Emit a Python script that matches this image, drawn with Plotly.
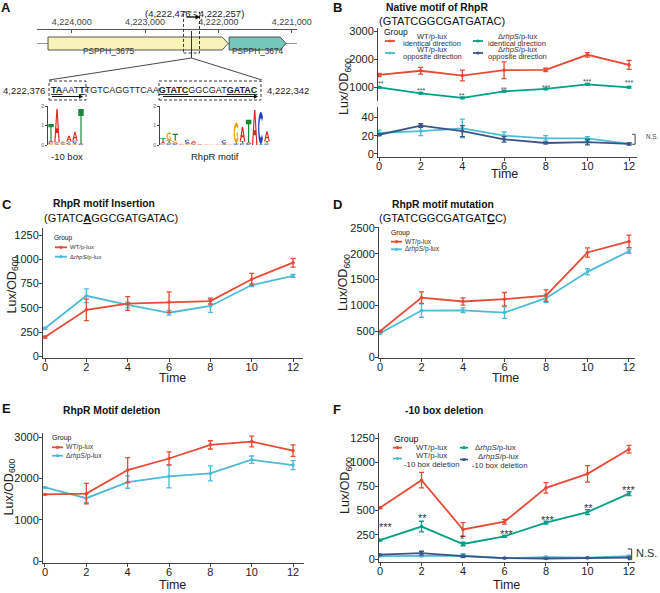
import math
import plotly.graph_objects as go

W, H = 660, 593
FONT = "Liberation Sans, Arial, Helvetica, sans-serif"


def px(x):
    return x / W


def py(y):
    return 1 - y / H


# ---------------------------------------------------------------- data
time = [0, 2, 4, 6, 8, 10, 12]
RED, CYAN, GREEN, NAVY = "#E64B35", "#4DBBD5", "#00A087", "#3C5488"
KO = "\u0394<i>rhpS</i>/p-lux"
WT = "WT/p-lux"

# Panel B  (native motif)
b_wt_ident = [1430, 1580, 1410, 1600, 1610, 2150, 1790]
b_wt_ident_sd = [60, 120, 190, 300, 60, 80, 160]
b_ko_ident = [990, 775, 610, 845, 930, 1095, 990]
b_ko_ident_sd = [25, 30, 25, 30, 25, 30, 30]
b_wt_opp = [23, 25, 28, 20, 17, 17, 11]
b_wt_opp_sd = [3, 5, 10, 4, 3, 2, 1]
b_ko_opp = [21, 31, 25, 16, 12, 13, 11]
b_ko_opp_sd = [1, 2, 6, 3, 1, 3, 1]
b_sig = ["**", "***", "**", "**", "***", "***", "***"]
b_sig_y = [1180, 955, 750, 990, 1070, 1250, 1225]

# Panel C  (insertion)
c_wt = [200, 480, 545, 560, 570, 795, 965]
c_wt_sd = [10, 110, 70, 105, 30, 60, 45]
c_ko = [290, 625, 530, 450, 520, 735, 830]
c_ko_sd = [10, 70, 30, 25, 65, 15, 15]

# Panel D  (mutation)
d_wt = [500, 1150, 1075, 1120, 1190, 2025, 2240]
d_wt_sd = [10, 110, 70, 130, 110, 90, 120]
d_ko = [460, 900, 905, 860, 1140, 1650, 2050]
d_ko_sd = [10, 130, 45, 110, 80, 60, 40]

# Panel E  (motif deletion)
e_wt = [1610, 1630, 2200, 2480, 2810, 2890, 2670]
e_wt_sd = [10, 250, 300, 160, 100, 130, 140]
e_ko = [1780, 1520, 1910, 2050, 2120, 2450, 2320]
e_ko_sd = [10, 110, 150, 280, 180, 90, 110]

# Panel F  (-10 box deletion)
f_wt = [530, 815, 305, 385, 735, 880, 1135]
f_wt_sd = [10, 80, 70, 25, 55, 85, 40]
f_ko = [195, 335, 155, 235, 375, 485, 675]
f_ko_sd = [8, 55, 18, 10, 15, 25, 20]
f_wt_del = [30, 30, 35, 8, 20, 15, 30]
f_wt_del_sd = [3, 5, 20, 3, 8, 5, 8]
f_ko_del = [45, 60, 30, 10, 5, 10, 15]
f_ko_del_sd = [3, 20, 10, 3, 3, 3, 3]
f_sig = ["***", "**", "*", "***", "***", "**", "***"]
f_sig_x = [0.3, 2.05, 4, 6.1, 8.1, 10.05, 12]
f_sig_y = [365, 455, 235, 285, 430, 558, 740]

# Panel A  (genomic context)
genome_ticks = [4224000, 4223000, 4222000, 4221000]
genome_range = [4224473, 4220928]
genes = ["PSPPH_3675", "PSPPH_3674"]
gene_from = [4224323, 4221854]
gene_to = [4221868, 4221077]
gene_fill = ["#F8F3B9", "#74C7B9"]
gene_label_frac = [0.34, 0.5]
region = [4222476, 4222257]
seq_coords = [4222376, 4222342]
seq_html = ("<b><u>TA</u></b>AAT<b><u>T</u></b>TGTCAGGTTCAA"
            "<b><u>GTATC</u></b>GGCGAT<b><u>GATAC</u></b>")
BASE_COL = {"A": "#E0251D", "C": "#2140C8", "G": "#F5A11C", "T": "#17893A"}
logo_box = [
    [("G", 0.05), ("C", 0.08), ("A", 0.1), ("T", 0.85)],
    [("G", 0.04), ("C", 0.05), ("T", 0.05), ("A", 1.7)],
    [("G", 0.04), ("C", 0.04), ("T", 0.05), ("A", 0.05)],
    [("G", 0.04), ("C", 0.07), ("T", 0.07), ("A", 0.3)],
    [("G", 0.04), ("T", 0.06), ("C", 0.12), ("A", 0.45)],
    [("C", 0.04), ("A", 0.05), ("T", 1.75)],
]
logo_rhpr = [
    [("C", 0.03), ("G", 0.05), ("A", 0.07), ("T", 0.2)],
    [("C", 0.05), ("A", 0.08), ("T", 0.1), ("G", 0.42)],
    [("C", 0.05), ("A", 0.08), ("G", 0.1), ("T", 0.35)],
    [("A", 0.03), ("G", 0.03)],
    [("G", 0.05), ("A", 0.07), ("C", 0.15)],
    [("G", 0.04), ("C", 0.05), ("A", 0.12)],
    [("A", 0.04)],
    [("A", 0.03)],
    [("G", 0.03)],
    [("A", 0.03)],
    [("T", 0.04), ("A", 0.05), ("C", 0.15)],
    [("A", 0.03)],
    [("C", 0.05), ("T", 0.05), ("G", 1.05)],
    [("C", 0.08), ("T", 0.12), ("A", 0.72)],
    [("C", 0.05), ("A", 0.1), ("T", 1.15)],
    [("A", 1.8)],
    [("T", 0.05), ("C", 1.65)],
    [("C", 0.05), ("G", 0.05), ("T", 0.1), ("A", 0.5)],
]

# ---------------------------------------------------------------- helpers
fig = go.Figure()
ann = []
shapes = []


def series(xa, ya, y, sd, color):
    fig.add_trace(go.Scatter(
        x=time, y=y, xaxis=xa, yaxis=ya, mode="lines+markers",
        line=dict(color=color, width=1.8),
        marker=dict(color=color, size=3.5),
        error_y=dict(type="data", array=sd, visible=True, color=color,
                     thickness=1.3, width=2.5),
        showlegend=False, hoverinfo="skip"))


def text(x, y, s, size=10, color="#111", xanchor="center", yanchor="middle", **kw):
    ann.append(dict(x=px(x), y=py(y), xref="paper", yref="paper", text=s,
                    showarrow=False, font=dict(size=size, color=color, family=FONT),
                    xanchor=xanchor, yanchor=yanchor, **kw))


def line(x0, y0, x1, y1, color="#333", width=1, dash=None):
    shapes.append(dict(type="line", xref="paper", yref="paper", x0=px(x0), y0=py(y0),
                       x1=px(x1), y1=py(y1), line=dict(color=color, width=width, dash=dash)))


def arrow(x0, x1, y, width=1, hl=4, hw=2.2, color="#111"):
    line(x0, y, x1 - hl + 0.5, y, color, width)
    shapes.append(dict(type="path", xref="paper", yref="paper",
                       path=f"M {px(x1)},{py(y)} L {px(x1 - hl)},{py(y - hw)} L {px(x1 - hl)},{py(y + hw)} Z",
                       fillcolor=color, line=dict(width=0)))


def rect(x0, y0, x1, y1, color="#222", dash="3px,2px"):
    shapes.append(dict(type="rect", xref="paper", yref="paper", x0=px(x0), y0=py(y1),
                       x1=px(x1), y1=py(y0), line=dict(color=color, width=0.9, dash=dash)))


def key(x0, x1, y, color):
    line(x0, y, x1, y, color, 1.8)
    c = (x0 + x1) / 2
    shapes.append(dict(type="circle", xref="paper", yref="paper", x0=px(c - 1.6), x1=px(c + 1.6),
                       y0=py(y + 1.6), y1=py(y - 1.6), fillcolor=color, line=dict(width=0)))


def ytitle(x, y):
    text(x, y, "Lux/OD<sub>600</sub>", size=12.5, color="#222", textangle=-90)


def axis_common():
    return dict(showline=True, linecolor="#444", linewidth=1, ticks="outside", ticklen=3,
                tickcolor="#444", tickwidth=1, showgrid=False, zeroline=False,
                tickfont=dict(size=11, color="#222", family=FONT), fixedrange=True)


def xa(dom, rng, anchor):
    d = axis_common()
    d.update(domain=[px(dom[0]), px(dom[1])], range=rng, anchor=anchor, tickvals=time,
             ticklabelstandoff=-4)
    return d


def ya(dom, rng, anchor, tickvals):
    d = axis_common()
    d.update(domain=[py(dom[1]), py(dom[0])], range=rng, anchor=anchor, tickvals=tickvals,
             ticklabelstandoff=-2)
    return d


# ---------------------------------------------------------------- panel B
series("x", "y2", b_wt_ident, b_wt_ident_sd, RED)
series("x", "y2", b_ko_ident, b_ko_ident_sd, GREEN)
series("x", "y", b_wt_opp, b_wt_opp_sd, CYAN)
series("x", "y", b_ko_opp, b_ko_opp_sd, NAVY)
for t, s, yy in zip(time, b_sig, b_sig_y):
    ann.append(dict(x=max(t, 0.08), y=yy, xref="x", yref="y2", text=s, showarrow=False,
                    font=dict(size=7, color="#444", family=FONT), yshift=-2))
shapes.append(dict(type="path", xref="x", yref="y", path="M 12.15,21.5 L 12.29,21.5 L 12.29,10.6 L 12.15,10.6",
                   line=dict(color="#444", width=1)))
text(652, 137, "N.S.", size=6.3, color="#444")
text(437, 7, "<b>Native motif of RhpR</b>", size=10.3)
text(442, 21, "(GTATCGGCGATGATAC)", size=11)
ytitle(345, 87)
text(504, 174, "Time", size=12.5, color="#222")
text(396, 32, "Group", size=8.5)
key(385, 395, 41, RED)
key(473, 483, 41, GREEN)
key(385, 395, 53, CYAN)
key(473, 483, 53, NAVY)
for cx, lab in [(432, WT), (517, KO)]:
    text(cx, 36.7, lab, size=7.5, color="#333")
    text(cx, 43.3, "identical direction", size=7.5, color="#333")
    text(cx, 49.9, lab, size=7.5, color="#333")
    text(cx, 56.5, "opposite direction", size=7.5, color="#333")

# ---------------------------------------------------------------- panel C
series("x3", "y3", c_ko, c_ko_sd, CYAN)
series("x3", "y3", c_wt, c_wt_sd, RED)
text(104, 203, "<b>RhpR motif Insertion</b>", size=10.3)
text(111, 218, "(GTATC<b><u>A</u></b>GGCGATGATAC)", size=11)
ytitle(12.5, 285)
text(172, 378, "Time", size=12.5, color="#222")
text(52, 238, "Group", size=6.5, xanchor="left")
key(55, 67, 247.3, RED)
key(55, 67, 256.7, CYAN)
text(68, 247.3, WT, size=6, color="#333", xanchor="left")
text(68, 256.7, KO, size=6, color="#333", xanchor="left")

# ---------------------------------------------------------------- panel D
series("x4", "y4", d_ko, d_ko_sd, CYAN)
series("x4", "y4", d_wt, d_wt_sd, RED)
text(442.5, 205, "<b>RhpR motif mutation</b>", size=10.3)
text(442.5, 218, "(GTATCGGCGATGAT<b><u>C</u></b>C)", size=11)
ytitle(344, 283)
text(505, 378, "Time", size=12.5, color="#222")
text(389, 233, "Group", size=6.8, xanchor="left")
key(391, 402, 241.7, RED)
key(391, 402, 249.3, CYAN)
text(403, 241.7, WT, size=6.5, color="#333", xanchor="left")
text(403, 249.3, KO, size=6.5, color="#333", xanchor="left")

# ---------------------------------------------------------------- panel E
series("x5", "y5", e_ko, e_ko_sd, CYAN)
series("x5", "y5", e_wt, e_wt_sd, RED)
text(111, 410, "<b>RhpR Motif deletion</b>", size=10.3)
ytitle(9.5, 487)
text(172, 585, "Time", size=12.5, color="#222")
text(50, 438, "Group", size=7, xanchor="left")
key(52, 63, 447.3, RED)
key(52, 63, 455.7, CYAN)
text(64, 447.3, WT, size=6.8, color="#333", xanchor="left")
text(64, 455.7, KO, size=6.8, color="#333", xanchor="left")

# ---------------------------------------------------------------- panel F
series("x6", "y6", f_wt_del, f_wt_del_sd, CYAN)
series("x6", "y6", f_ko_del, f_ko_del_sd, NAVY)
series("x6", "y6", f_ko, f_ko_sd, GREEN)
series("x6", "y6", f_wt, f_wt_sd, RED)
for xx, s, yy in zip(f_sig_x, f_sig, f_sig_y):
    ann.append(dict(x=xx, y=yy, xref="x6", yref="y6", text=s, showarrow=False,
                    font=dict(size=11, color="#333", family=FONT), yshift=-3))
shapes.append(dict(type="path", xref="x6", yref="y6", path="M 11.94,103 L 12.13,103 L 12.13,-7 L 11.94,-7",
                   line=dict(color="#333", width=1)))
text(634, 553, "N.S.", size=11, color="#333", xanchor="left")
text(443.5, 410, "<b>-10 box deletion</b>", size=10.3)
ytitle(346, 486)
text(506, 585, "Time", size=12.5, color="#222")
text(392, 439, "Group", size=8.8, xanchor="left")
key(393, 402, 447.7, RED)
key(460, 468, 447.7, GREEN)
key(393, 402, 458.5, CYAN)
key(460, 468, 459.5, NAVY)
text(431, 447.7, WT, size=7.8, color="#333")
text(495, 447.7, KO, size=7.8, color="#333")
text(431, 455.2, WT, size=7.8, color="#333")
text(431, 464.3, "-10 box deletion", size=7.8, color="#333")
text(498, 456.2, KO, size=7.8, color="#333")
text(499, 465.7, "-10 box deletion", size=7.8, color="#333")

# ---------------------------------------------------------------- panel A
def gx(coord):
    return 37 + (genome_range[0] - coord) / (genome_range[0] - genome_range[1]) * 260


TRACK_Y, HALF = 43.5, 6.5     # pixel row of the gene track
shapes.append(dict(type="line", xref="x7", yref="paper", x0=genome_range[0], x1=genome_range[1],
                   y0=py(TRACK_Y), y1=py(TRACK_Y), line=dict(color="#999", width=1), layer="below"))
head = 80
for g, s, e, fc, f in zip(genes, gene_from, gene_to, gene_fill, gene_label_frac):
    lo, hi, c = py(TRACK_Y + HALF), py(TRACK_Y - HALF), py(TRACK_Y)
    shapes.append(dict(type="path", xref="x7", yref="paper",
                       path=f"M {s},{lo} L {e + head},{lo} L {e},{c} L {e + head},{hi} L {s},{hi} Z",
                       fillcolor=fc, line=dict(color="#444", width=0.9)))
    ann.append(dict(x=s + (e - s) * f, y=c, xref="x7", yref="paper", text=g, showarrow=False,
                    font=dict(size=8.3, color="#333", family=FONT)))
# selected region
shapes.append(dict(type="rect", xref="x7", yref="paper", x0=region[0], x1=region[1],
                   y0=py(53), y1=py(12), line=dict(color="#222", width=0.9, dash="3px,2px")))
mid = (region[0] + region[1]) / 2
ann.append(dict(x=mid, y=py(6), xref="x7", yref="paper", showarrow=False,
                text=f"({region[0]:,} - {region[1]:,})", xshift=3,
                font=dict(size=9.5, color="#222", family=FONT)))
arrow(gx(region[0]) + 3, gx(region[1]) + 1, 17, width=1.4, hl=5, hw=2.6)
shapes.append(dict(type="line", xref="x7", yref="paper", x0=mid, x1=mid, y0=py(31), y1=py(58),
                   line=dict(color="#333", width=1)))
line(gx(mid), 58, 49, 80, "#333", 0.9)
line(gx(mid), 58, 262, 80, "#333", 0.9)
# sequence
text(47, 90, f"{seq_coords[0]:,}", size=9.5, color="#222", xanchor="right")
text(265, 90, f"{seq_coords[1]:,}", size=9.5, color="#222", xanchor="left")
text(154, 90, seq_html, size=9, color="#222")
rect(49, 81, 86, 100)
rect(159, 81, 261, 100)
arrow(52, 83, 96.5)
arrow(163, 258, 96.5)
text(67, 156, "-10 box", size=9.5, color="#222")
text(215, 156, "RhpR motif", size=9.5, color="#222")


def ring(a0, a1, n=24):
    outer = [(0.5 + 0.5 * math.cos(math.radians(a0 + (a1 - a0) * i / n)),
              0.5 + 0.5 * math.sin(math.radians(a0 + (a1 - a0) * i / n))) for i in range(n + 1)]
    inner = [(0.5 + 0.27 * math.cos(math.radians(a1 - (a1 - a0) * i / n)),
              0.5 + 0.3 * math.sin(math.radians(a1 - (a1 - a0) * i / n))) for i in range(n + 1)]
    return [outer + inner]


def glyph(letter):
    if letter == "T":
        return [[(0.39, 0), (0.61, 0), (0.61, 0.8), (1, 0.8), (1, 1), (0, 1), (0, 0.8), (0.39, 0.8)]]
    if letter == "A":
        return [[(0, 0), (0.22, 0), (0.32, 0.28), (0.68, 0.28), (0.78, 0), (1, 0), (0.62, 1), (0.38, 1)],
                [(0.38, 0.42), (0.5, 0.78), (0.62, 0.42)]]
    if letter == "C":
        return ring(40, 320)
    return ring(40, 340) + [[(0.52, 0.36), (1.0, 0.36), (1.0, 0.5), (0.52, 0.5)],
                            [(0.8, 0.22), (0.99, 0.22), (0.99, 0.5), (0.8, 0.5)]]


def draw_logo(columns, xref, yref):
    tops = []
    for i, col in enumerate(columns, start=1):
        base = 0.0
        for letter, h in col:
            x0, x1 = i - 0.45, i + 0.45
            parts = []
            for poly in glyph(letter):
                pts = [f"{x0 + u * (x1 - x0):.4f},{base + v * h:.4f}" for u, v in poly]
                parts.append("M " + " L ".join(pts) + " Z")
            shapes.append(dict(type="path", xref=xref, yref=yref, path=" ".join(parts),
                               fillcolor=BASE_COL[letter], line=dict(width=0)))
            base += h
        tops.append(base)
    fig.add_trace(go.Scatter(x=list(range(1, len(columns) + 1)), y=tops, mode="markers",
                             marker=dict(opacity=0), xaxis=xref, yaxis=yref,
                             showlegend=False, hoverinfo="skip"))


draw_logo(logo_box, "x8", "y8")
draw_logo(logo_rhpr, "x9", "y9")
# invisible anchor trace for the genome axis
fig.add_trace(go.Scatter(x=genome_ticks, y=[0.5] * len(genome_ticks), mode="markers",
                         marker=dict(opacity=0), xaxis="x7", yaxis="y7",
                         showlegend=False, hoverinfo="skip"))

# panel letters
for lx, ly, L in [(6, 7, "A"), (337.5, 7, "B"), (7, 205, "C"), (337, 205, "D"),
                  (6, 408.5, "E"), (337, 409.5, "F")]:
    text(lx, ly, f"<b>{L}</b>", size=13, color="#111")

# ---------------------------------------------------------------- layout
layout = dict(width=W, height=H, margin=dict(l=0, r=0, t=0, b=0, autoexpand=False),
              paper_bgcolor="white", plot_bgcolor="white", showlegend=False,
              font=dict(family=FONT, color="#222"))
layout["xaxis"] = xa((378, 637), [-0.05, 12.38], "y")
layout["yaxis"] = ya((107, 157), [-3.3, 51.3], "x", [0, 20, 40])
layout["yaxis2"] = ya((28, 101), [500, 3107], "x", [1000, 2000, 3000])
layout["xaxis3"] = xa((43, 303), [-0.097, 12.48], "y3")
layout["yaxis3"] = ya((228, 358), [-15.4, 1322], "x3", [0, 250, 500, 750, 1000, 1250])
layout["xaxis4"] = xa((379, 635), [-0.048, 12.29], "y4")
layout["yaxis4"] = ya((227, 358), [-19.4, 2519], "x4", [0, 500, 1000, 1500, 2000, 2500])
layout["xaxis5"] = xa((43, 304), [-0.096, 12.53], "y5")
layout["yaxis5"] = ya((433, 563), [-48, 3097], "x5", [0, 1000, 2000, 3000])
layout["xaxis6"] = xa((379, 635), [-0.048, 12.29], "y6")
layout["yaxis6"] = ya((433, 562), [-31, 1302], "x6", [0, 250, 500, 750, 1000, 1250])
layout["xaxis7"] = dict(domain=[px(37), px(297)], range=genome_range, anchor="free",
                        position=py(29), side="top",
                        showline=True, linecolor="#555", linewidth=1, ticks="inside", ticklen=3,
                        tickcolor="#555", tickvals=genome_ticks, tickformat=",",
                        tickfont=dict(size=9, color="#444", family=FONT), showgrid=False,
                        zeroline=False, fixedrange=True)
layout["yaxis7"] = dict(domain=[py(57), py(29)], range=[0, 1], anchor="x7", visible=False,
                        fixedrange=True)
for ax_i, dom, n in [(8, (48, 84), len(logo_box)), (9, (160, 270), len(logo_rhpr))]:
    layout[f"xaxis{ax_i}"] = dict(domain=[px(dom[0]), px(dom[1])], range=[0.5, n + 0.5],
                                  anchor=f"y{ax_i}", showline=False, showgrid=False, zeroline=False,
                                  showticklabels=False, ticks="", fixedrange=True)
    layout[f"yaxis{ax_i}"] = dict(domain=[py(145), py(106)], range=[0, 2], anchor=f"x{ax_i}",
                                  showline=True, linecolor="#444", linewidth=0.8, ticks="outside",
                                  ticklen=2, tickcolor="#444", tickvals=[0, 1, 2],
                                  tickfont=dict(size=5, color="#555", family=FONT),
                                  showgrid=False, zeroline=False, fixedrange=True)
layout["annotations"] = ann
layout["shapes"] = shapes
fig.update_layout(**layout)
fig.write_html("out.html", config={"displayModeBar": False},
               post_script="document.body.style.margin='0px';document.body.style.overflow='hidden';")
